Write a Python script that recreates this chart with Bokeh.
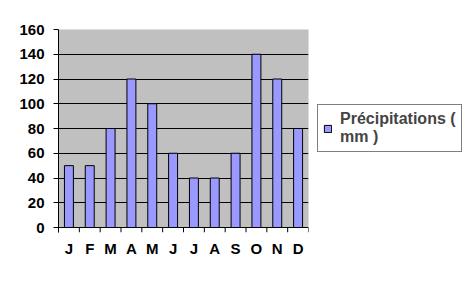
from bokeh.plotting import figure
from bokeh.layouts import row
from bokeh.models import (FixedTicker, Range1d, Legend, LegendItem, ColumnDataSource,
                          LinearAxis, BoxAnnotation)
from bokeh.embed import file_html
from bokeh.resources import INLINE

months = ["J", "F", "M", "A", "M", "J", "J", "A", "S", "O", "N", "D"]
precip = [50, 50, 80, 120, 100, 60, 40, 40, 60, 140, 120, 80]
series_name = "Précipitations (\nmm )"
y_ticks = [0, 20, 40, 60, 80, 100, 120, 140, 160]

# layout (pixels)
W, H = 468, 281
plot_left, plot_right, plot_top, plot_bottom = 58, 308, 29, 227
tick_px = 5
main_w = plot_right + 2
y_max = y_ticks[-1]
y_pad = tick_px * y_max / (plot_bottom - plot_top)

n = len(months)
centers = [i + 0.5 for i in range(n)]
bounds = list(range(n + 1))
src = ColumnDataSource(dict(x=centers, top=precip))

bar_style = dict(fill_color="#9999FF", line_color="black", line_width=1)

p = figure(width=main_w, height=H, output_backend="svg", toolbar_location=None,
           x_range=Range1d(0, n), y_range=Range1d(-y_pad, y_max),
           x_axis_location=None,
           min_border_left=plot_left, min_border_top=plot_top,
           min_border_bottom=H - plot_bottom - tick_px, min_border_right=main_w - plot_right)
p.background_fill_color = "white"
p.border_fill_color = "white"
p.outline_line_color = None

# grey plot area with grey top/right border
area = BoxAnnotation(left=0, right=n, bottom=0, top=y_max, fill_color="#C0C0C0",
                     fill_alpha=1, line_color="#808080", line_width=1, level="image")
p.add_layout(area)

# category boundary tick marks below the zero line
tick_src = ColumnDataSource(dict(x=bounds, y0=[0] * len(bounds), y1=[-y_pad] * len(bounds)))
p.segment(x0="x", x1="x", y0="y0", y1="y1", source=tick_src, line_color="black", line_width=1)

r = p.vbar(x="x", top="top", width=0.43, source=src, **bar_style)

# month labels at centres
ax_lab = LinearAxis(ticker=FixedTicker(ticks=centers, minor_ticks=[]))
ax_lab.major_label_overrides = {c: m for c, m in zip(centers, months)}
ax_lab.major_tick_line_color = None
ax_lab.minor_tick_line_color = None
ax_lab.axis_line_color = None
ax_lab.major_tick_out = 0
ax_lab.major_label_standoff = 7
p.add_layout(ax_lab, "below")

p.yaxis.ticker = FixedTicker(ticks=y_ticks)
p.yaxis.major_tick_out = 5
p.yaxis.major_tick_in = 0
p.yaxis.minor_tick_line_color = None
p.yaxis.major_label_standoff = 9
p.yaxis.axis_line_color = "black"

for ax in (ax_lab, p.yaxis[0]):
    ax.major_label_text_font = "Liberation Sans"
    ax.major_label_text_font_size = "15px"
    ax.major_label_text_font_style = "bold"
    ax.major_label_text_color = "black"

p.xgrid.grid_line_color = None
p.ygrid.ticker = FixedTicker(ticks=y_ticks[:-1])
p.ygrid.grid_line_color = "black"
p.ygrid.grid_line_width = 1

# legend panel
q = figure(width=W - main_w, height=H, output_backend="svg", toolbar_location=None,
           x_range=Range1d(0, 1), y_range=Range1d(0, 1),
           x_axis_location=None, y_axis_location=None,
           min_border=0)
q.outline_line_color = None
q.xgrid.grid_line_color = None
q.ygrid.grid_line_color = None
q.background_fill_color = "white"
rq = q.vbar(x=[5], top=[1], width=0.43, **bar_style)  # off-screen, legend swatch only

legend = Legend(items=[LegendItem(label=series_name, renderers=[rq])],
                location=(317 - main_w, 80))
legend.label_text_font = "Liberation Sans"
legend.label_text_font_size = "16px"
legend.label_text_font_style = "bold"
legend.border_line_color = "black"
legend.border_line_width = 1
legend.background_fill_color = "white"
legend.background_fill_alpha = 1
legend.glyph_width = 9
legend.glyph_height = 9
legend.label_standoff = 8
legend.padding = 5
legend.spacing = 0
legend.margin = 0
q.add_layout(legend, "center")

open("out.html", "w").write(file_html(row(p, q, spacing=0), INLINE))
